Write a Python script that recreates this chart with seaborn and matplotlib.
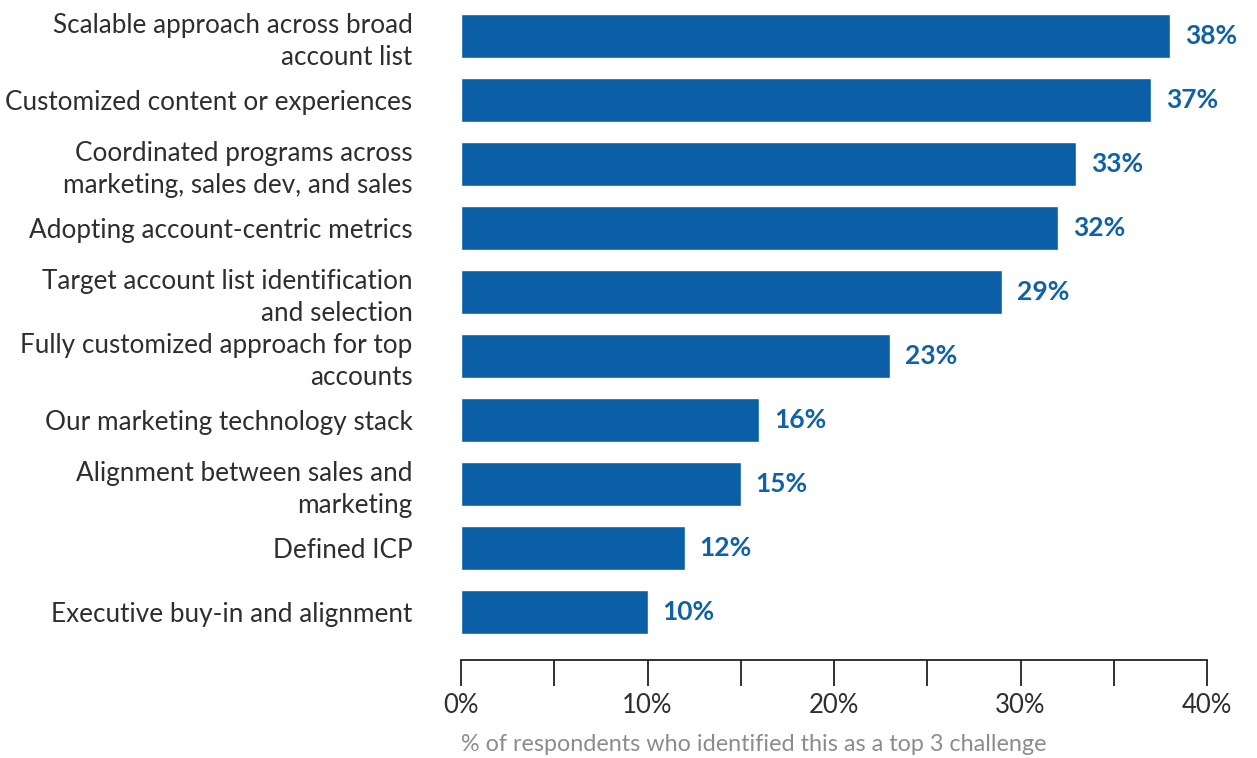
import matplotlib
matplotlib.use("Agg")
import matplotlib.pyplot as plt
import seaborn as sns
import pandas as pd
from matplotlib.ticker import MultipleLocator, FuncFormatter

categories = [
    "Scalable approach across broad\naccount list",
    "Customized content or experiences",
    "Coordinated programs across\nmarketing, sales dev, and sales",
    "Adopting account-centric metrics",
    "Target account list identification\nand selection",
    "Fully customized approach for top\naccounts",
    "Our marketing technology stack",
    "Alignment between sales and\nmarketing",
    "Defined ICP",
    "Executive buy-in and alignment",
]
values = [38, 37, 33, 32, 29, 23, 16, 15, 12, 10]
value_labels = ["38%", "37%", "33%", "32%", "29%", "23%", "16%", "15%", "12%", "10%"]
x_label = "% of respondents who identified this as a top 3 challenge"

BAR_COLOR = "#0a5fa6"
LABEL_COLOR = "#0f62a8"
TEXT_COLOR = "#2e2e2e"

sns.set_theme(style="white")
plt.rcParams["font.family"] = ["Lato", "DejaVu Sans"]

df = pd.DataFrame({"category": categories, "value": values})

fig = plt.figure(figsize=(12.57, 7.58), dpi=100)
ax = fig.add_axes([461 / 1257, (758 - 660) / 758, (1207 - 461) / 1257, 660 / 758])

sns.barplot(data=df, y="category", x="value", orient="h", color=BAR_COLOR,
            saturation=1, width=0.69, ax=ax)

for i, (v, lab) in enumerate(zip(values, value_labels)):
    ax.text(v + 0.8, i, lab, va="center", ha="left", fontsize=19,
            fontweight="bold", color=LABEL_COLOR)

ax.set_xlim(0, 40)
ax.set_ylim(9.75, -0.56)

ax.xaxis.set_major_locator(MultipleLocator(10))
ax.xaxis.set_minor_locator(MultipleLocator(5))
ax.xaxis.set_major_formatter(FuncFormatter(lambda x, p: f"{int(x)}%"))
ax.tick_params(axis="x", which="both", direction="out", length=19, width=1.3,
               color="#222222", bottom=True, labelsize=18.5, labelcolor=TEXT_COLOR, pad=5)
ax.tick_params(axis="y", which="both", length=0, labelsize=18.8,
               labelcolor=TEXT_COLOR, pad=35)
for t in ax.get_yticklabels():
    t.set_linespacing(1.32)

for s in ["top", "right", "left"]:
    ax.spines[s].set_visible(False)
ax.spines["bottom"].set_color("#222222")
ax.spines["bottom"].set_linewidth(1.3)

ax.set_ylabel("")
ax.set_xlabel(x_label, loc="left", fontsize=16.8, color="#8c8c8c", labelpad=11)

fig.savefig("out.png", dpi=100)
